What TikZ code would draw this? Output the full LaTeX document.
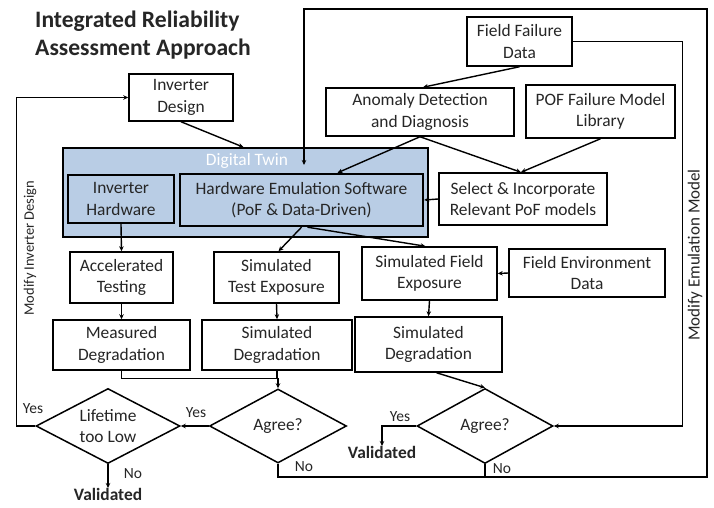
\documentclass[tikz,border=0pt]{standalone}
\usepackage{fontspec}
\setmainfont{Carlito}
\usetikzlibrary{shapes.geometric,arrows.meta}
\definecolor{dtblue}{HTML}{B9CDE5}
\definecolor{txt}{HTML}{262626}
\newcommand\myboxfont{\fontsize{17.4}{21.5}\selectfont}
\newcommand\mylblfont{\fontsize{15.5}{18}\selectfont}
\begin{document}
\begin{tikzpicture}[x=1pt,y=-1pt,
  box/.style={draw, line width=1.5pt, align=center, inner sep=0pt, font=\myboxfont, text=txt},
  tbox/.style={box, line width=2.4pt, fill=dtblue},
  dia/.style={diamond, draw, line width=1.5pt, aspect=1.9, inner sep=0pt, align=center, font=\myboxfont, text=txt},
  conn/.style={line width=1.4pt},
  arr/.style={conn, -{Stealth[length=5pt,width=4.5pt]}},
  lbl/.style={font=\mylblfont, inner sep=0pt, text=txt}]
\useasboundingbox (0,0) rectangle (714,508);
\fill[white] (0,0) rectangle (714,508);

% title
\node[anchor=north west, inner sep=0pt, align=left, font=\fontsize{23.6}{28}\selectfont\bfseries, text=txt] (title) at (35,11) {Integrated Reliability\\Assessment Approach};

% top boxes
\node[box, minimum width=104, minimum height=47] (invd) at (181,97.5) {Inverter\\Design};
\node[box, minimum width=105, minimum height=49] (ffd) at (519.5,41.5) {Field Failure\\Data};
\node[box, minimum width=188, minimum height=48] (anom) at (420,112) {Anomaly Detection\\and Diagnosis};
\node[box, minimum width=149, minimum height=53] (pof) at (600.5,111.5) {POF Failure Model\\Library};
\node[box, minimum width=168, minimum height=52] (sel) at (523,199) {Select \& Incorporate\\Relevant PoF models};

% digital twin
\node[draw, line width=1.6pt, fill=dtblue, minimum width=365, minimum height=89, inner sep=0pt] (dt) at (245.5,192.5) {};
\node[inner sep=0pt, font=\myboxfont, text=white] (dtl) at (247,161) {Digital Twin};
\node[tbox, minimum width=106, minimum height=48] (ihw) at (121,199) {Inverter\\Hardware};
\node[tbox, minimum width=243, minimum height=52] (hes) at (301.5,200) {Hardware Emulation Software\\(PoF \& Data-Driven)};

% middle rows
\node[box, minimum width=103, minimum height=51] (acc) at (121.5,277.5) {Accelerated\\Testing};
\node[box, minimum width=125, minimum height=51] (ste) at (276.5,277.5) {Simulated\\Test Exposure};
\node[box, minimum width=135, minimum height=53] (sfe) at (429.5,273.5) {Simulated Field\\Exposure};
\node[box, minimum width=156, minimum height=48] (fed) at (587,273) {Field Environment\\Data};
\node[box, minimum width=137, minimum height=50] (meas) at (121.5,345) {Measured\\Degradation};
\node[box, minimum width=150, minimum height=50] (sd1) at (277,345) {Simulated\\Degradation};
\node[box, minimum width=147, minimum height=55] (sd2) at (428.5,344.5) {Simulated\\Degradation};

% decisions
\node[dia, minimum width=144, minimum height=75] (life) at (108,426) {Lifetime\\too Low};
\node[dia, minimum width=137, minimum height=74] (ag1) at (278,426) {Agree?};
\node[dia, minimum width=136, minimum height=75] (ag2) at (485,426) {Agree?};

\node[inner sep=0pt, font=\myboxfont\bfseries, text=txt, anchor=north] (val1) at (108,488) {Validated};
\node[inner sep=0pt, font=\myboxfont\bfseries, text=txt, anchor=north] (val2) at (382,446) {Validated};

% labels
\node[lbl] (y1) at (33,409) {Yes};
\node[lbl] (n1) at (133,474) {No};
\node[lbl] (y2) at (196,413) {Yes};
\node[lbl] (n2) at (304,467) {No};
\node[lbl] (y3) at (400,417) {Yes};
\node[lbl] (n3) at (502,469) {No};
\node[lbl, rotate=90, font=\fontsize{14.5}{17}\selectfont] (mid) at (30,248) {Modify Inverter Design};
\node[lbl, rotate=90, font=\fontsize{17}{20}\selectfont] (mem) at (695,255) {Modify Emulation Model};

% coordinates for loops
\coordinate (b1) at (278,477);
\coordinate (b2) at (707,477);
\coordinate (b3) at (707,9);
\coordinate (b4) at (304,9);
\coordinate (b5) at (304,165);

% connectors
\draw[arr] (life.west) -- ++(-19,0) |- (invd.west);
\draw[arr] (invd.south) -- ([xshift=-2pt]dt.north);
\draw[arr] (ffd.south) -- ([xshift=3pt]anom.north);
\draw[arr] (anom.south) -- ([xshift=36pt]hes.north);
\draw[arr] (anom.south) -- ([xshift=-2pt]sel.north);
\draw[arr] (pof.south) -- ([xshift=-2pt]sel.north);
\draw[arr] (sel.west) -- (hes.east);
\draw[arr] (ihw.south) -- (acc.north);
\draw[arr] (hes.south) -- ([xshift=2pt]ste.north);
\draw[arr] ([xshift=6pt]hes.south) -- ([xshift=-4pt]sfe.north);
\draw[arr] (fed.west) -- (sfe.east);
\draw[arr] (acc.south) -- (meas.north);
\draw[arr] (ste.south) -- (sd1.north);
\draw[arr] (sfe.south) -- (sd2.north);
\draw[arr] (meas.south) -- ++(0,8) -| (ag1.north);
\draw[conn] (sd1.south) -- ++(0,8);
\draw[arr] ([xshift=8pt]sd2.south) -- (ag2.north);
\draw[arr] (ag1.west) -- (life.east);
\draw[arr] (life.south) -- (val1.north);
\draw[arr] (ag2.west) -| (val2.north);
\draw[arr] (ffd.east) -- ++(110,0) |- (ag2.east);
\draw[conn] (ag2.south) -- (ag2.south |- b1);
\draw[arr] (ag1.south) -- (b1) -- (b2) -- (b3) -- (b4) -- (b5);
\end{tikzpicture}
\end{document}
